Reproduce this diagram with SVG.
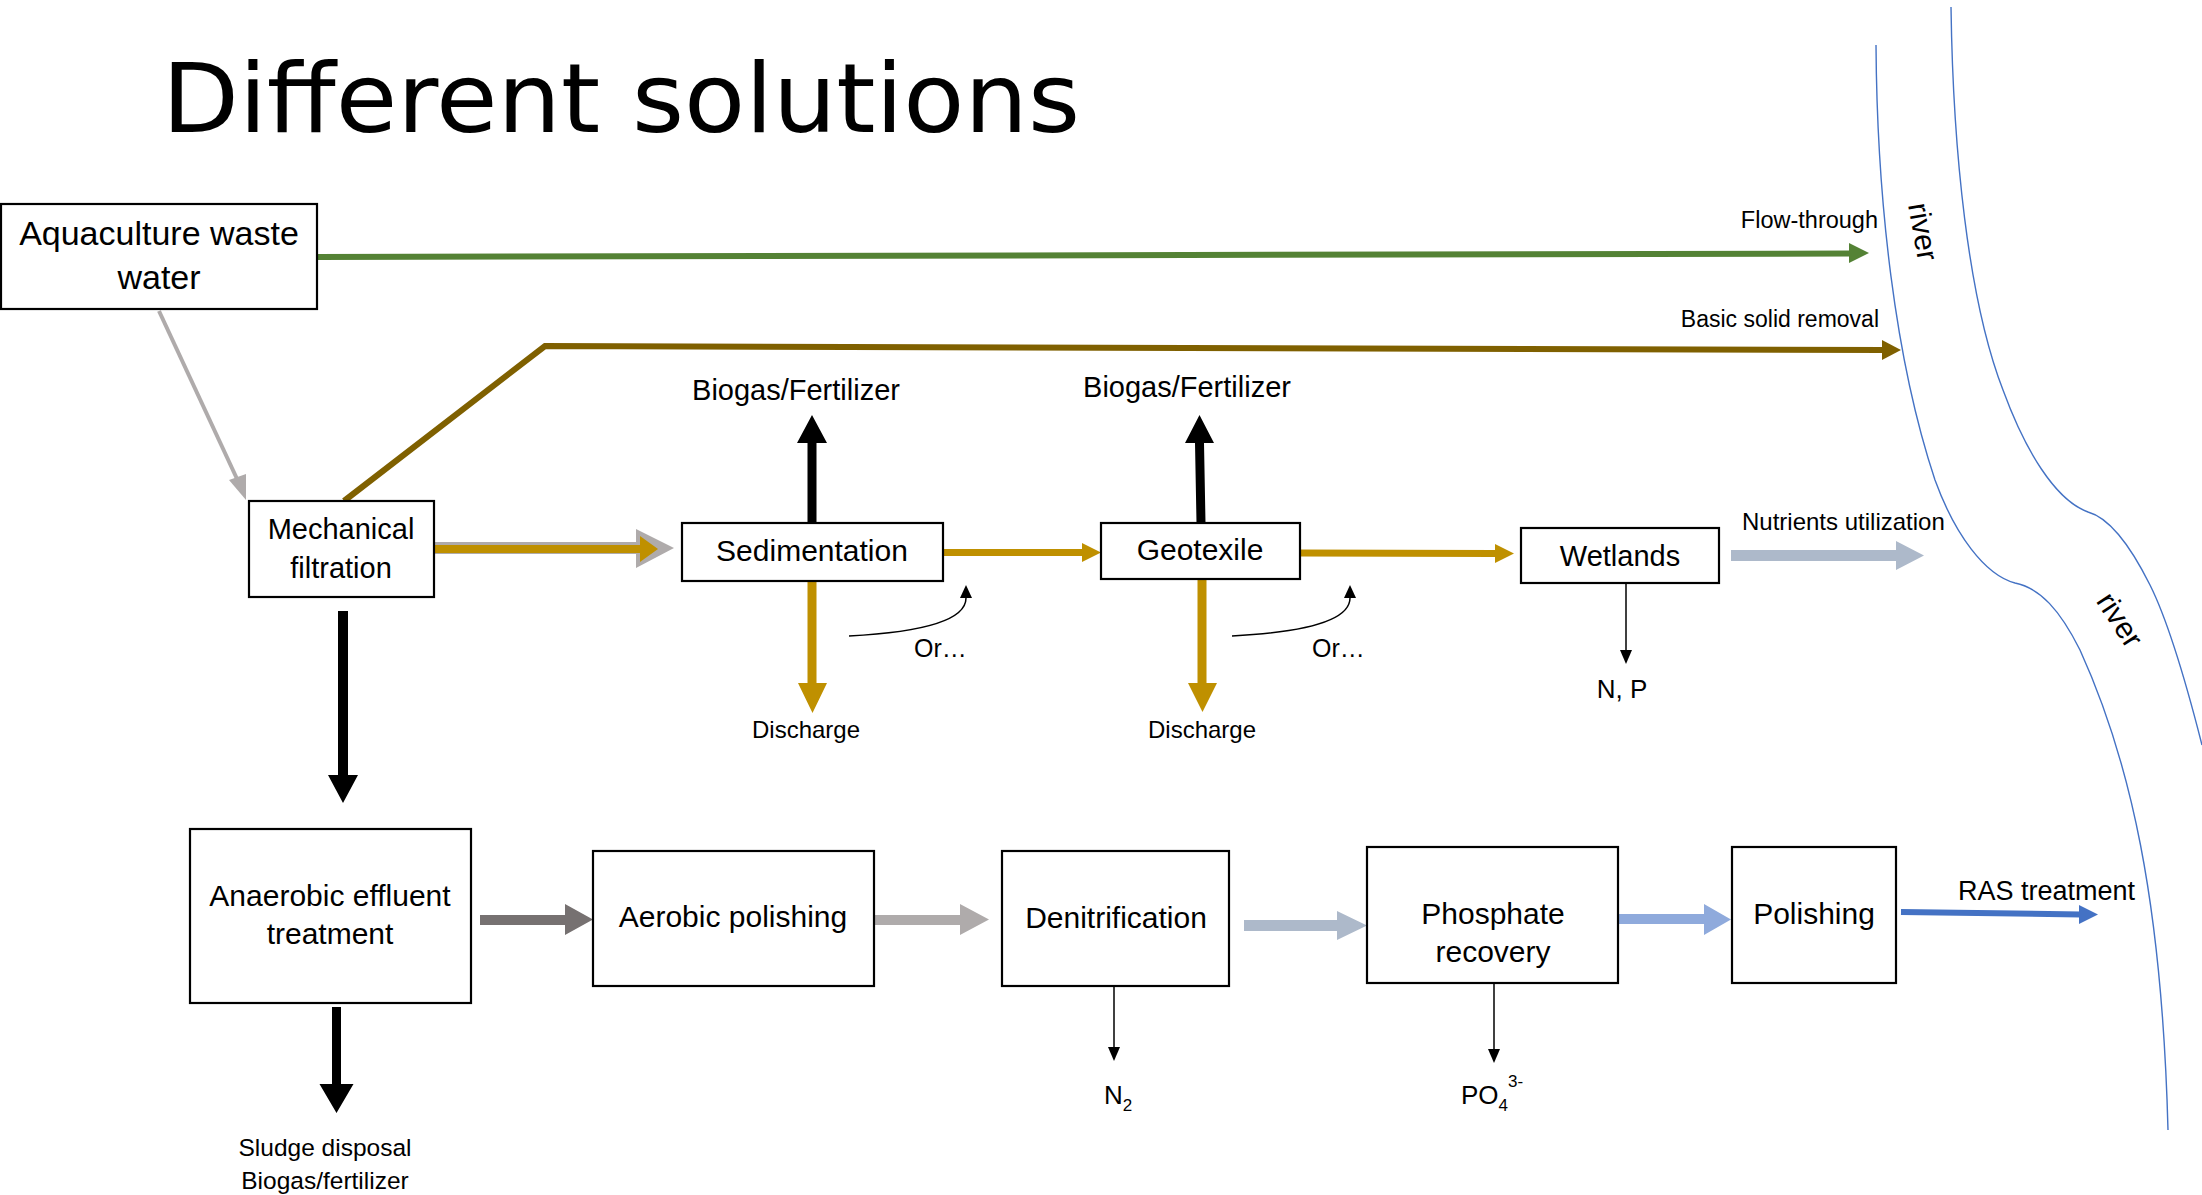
<svg xmlns="http://www.w3.org/2000/svg" width="2202" height="1195" viewBox="0 0 2202 1195">
<style>
.box{fill:#fff;stroke:#000;stroke-width:2.2}
.t{font-family:"Liberation Sans",Arial,sans-serif;fill:#000}
.bt{font-size:30px;text-anchor:middle}
.lab{font-size:24px}
.thin{stroke:#000;stroke-width:1.5;fill:none}
.river{stroke:#4472C4;stroke-width:1.4;fill:none}
</style>
<rect width="2202" height="1195" fill="#fff"/>
<text class="t" x="162" y="132" style="font-family:'DejaVu Sans',Verdana,sans-serif;font-size:97px" textLength="918" lengthAdjust="spacingAndGlyphs">Different solutions</text>

<g id="river">
<path class="river" d="M1876,45 C1877,200 1895,360 1935,480 C1955,535 1985,575 2015,583 C2040,588 2060,610 2080,650 C2130,760 2162,900 2168,1130"/>
<path class="river" d="M1951,7 C1953,150 1968,300 2003,390 C2025,450 2055,500 2088,512 C2110,518 2130,545 2150,585 C2170,625 2188,690 2202,745"/>
<text class="t" font-size="30" text-anchor="middle" transform="translate(1921,232) rotate(80)" y="8">river</text>
<text class="t" font-size="30" text-anchor="middle" transform="translate(2118,621) rotate(57)" y="8">river</text>
</g>

<g id="connectors">
<line x1="317" y1="257" x2="1851" y2="253.5" stroke="#548235" stroke-width="6"/>
<polygon points="1849,243 1869,253 1849,263" fill="#548235"/>
<text class="t" x="1878" y="228" font-size="23.5" text-anchor="end">Flow-through</text>
<polyline points="344,501 545,346 1884,350" fill="none" stroke="#7F6000" stroke-width="6"/>
<polygon points="1882,340 1901,350 1882,360" fill="#7F6000"/>
<text class="t" x="1879" y="327" font-size="23" text-anchor="end">Basic solid removal</text>
<line x1="159" y1="311" x2="238" y2="481" stroke="#AFABAB" stroke-width="4"/>
<polygon points="229,480 246,500 246,474" fill="#AFABAB"/>
<polygon points="434,542 636,542 636,529 674,548 636,568 636,554 434,554" fill="#AFABAB"/>
<polygon points="434,545 640,545 640,536 658,549 640,562 640,553 434,553" fill="#BF9000"/>
<polygon points="807.5,522 807.5,443 797,443 812,415 827,443 816.5,443 816.5,522" fill="#000"/>
<polygon points="807.5,581 807.5,683 798,683 812.5,713 827,683 816.5,683 816.5,581" fill="#BF9000"/>
<text class="t" x="796" y="400" font-size="29" text-anchor="middle">Biogas/Fertilizer</text>
<text class="t lab" x="806" y="738" text-anchor="middle">Discharge</text>
<polygon points="944,549 1082,549 1082,543 1101,552.5 1082,562 1082,556 944,556" fill="#BF9000"/>
<path class="thin" d="M849,636 C925,632 966,620 966,598"/>
<polygon points="960,598 966,585 972,598" fill="#000"/>
<text class="t" x="914" y="657" font-size="25">Or…</text>
<polygon points="1196.5,523 1195,443 1185,443 1199.5,415 1214,443 1204,443 1205.5,523" fill="#000"/>
<polygon points="1197.5,580 1197.5,683 1188,683 1202.5,712 1217,683 1206.5,683 1206.5,580" fill="#BF9000"/>
<text class="t" x="1187" y="397" font-size="29" text-anchor="middle">Biogas/Fertilizer</text>
<text class="t lab" x="1202" y="738" text-anchor="middle">Discharge</text>
<polygon points="1300,549.5 1495,550 1495,544 1514,553.5 1495,563 1495,557 1300,556.5" fill="#BF9000"/>
<path class="thin" d="M1232,636 C1308,632 1350,620 1350,598"/>
<polygon points="1344,598 1350,585 1356,598" fill="#000"/>
<text class="t" x="1312" y="657" font-size="25">Or…</text>
<line class="thin" x1="1626" y1="583" x2="1626" y2="652"/>
<polygon points="1620,650 1626,664 1632,650" fill="#000"/>
<text class="t" x="1622" y="698" font-size="26" text-anchor="middle">N, P</text>
<polygon points="1731,550 1896,550 1896,541 1924,555.5 1896,570 1896,561 1731,561" fill="#ADB9CA"/>
<text class="t lab" x="1742" y="530">Nutrients utilization</text>
<polygon points="338,611 338,775 328,775 343,803 358,775 348,775 348,611" fill="#000"/>
<polygon points="332,1007 332,1084 319.5,1084 336.5,1113 353.5,1084 341,1084 341,1007" fill="#000"/>
<text class="t" x="325" y="1156" font-size="24.5" text-anchor="middle">Sludge disposal</text>
<text class="t" x="325" y="1189" font-size="24.5" text-anchor="middle">Biogas/fertilizer</text>
<polygon points="480,915 565,915 565,904 593,919.5 565,935 565,925 480,925" fill="#767171"/>
<polygon points="874,915 960,915 960,904 989,919.5 960,935 960,925 874,925" fill="#AFABAB"/>
<line class="thin" x1="1114" y1="986" x2="1114" y2="1049"/>
<polygon points="1108,1047 1114,1061 1120,1047" fill="#000"/>
<text class="t" x="1104" y="1104" font-size="26">N<tspan font-size="17" dy="7">2</tspan></text>
<polygon points="1244,920 1337,920 1337,911 1367,925.5 1337,940 1337,931 1244,931" fill="#ADB9CA"/>
<line class="thin" x1="1494" y1="983" x2="1494" y2="1051"/>
<polygon points="1488,1049 1494,1063 1500,1049" fill="#000"/>
<text class="t" x="1461" y="1104" font-size="26">PO<tspan font-size="17" dy="7">4</tspan><tspan font-size="17" dy="-24">3-</tspan></text>
<polygon points="1618,914 1704,914 1704,904 1731,919.5 1704,935 1704,924 1618,924" fill="#8FAADC"/>
<line x1="1901" y1="912" x2="2081" y2="914.5" stroke="#4472C4" stroke-width="6"/>
<polygon points="2079,905 2098,914.5 2079,924" fill="#4472C4"/>
<text class="t" x="1958" y="900" font-size="27">RAS treatment</text>
</g>

<g id="aquaculture">
<rect class="box" x="1" y="204" width="316" height="105"/>
<text class="t bt" x="159" y="245" style="font-size:34px">Aquaculture waste</text>
<text class="t bt" x="159" y="289" style="font-size:34px">water</text>
</g>
<g id="mechanical">
<rect class="box" x="249" y="501" width="185" height="96"/>
<text class="t bt" x="341" y="539" style="font-size:29px">Mechanical</text>
<text class="t bt" x="341" y="578" style="font-size:29px">filtration</text>
</g>
<g id="sedimentation">
<rect class="box" x="682" y="523" width="261" height="58"/>
<text class="t bt" x="812" y="561">Sedimentation</text>
</g>
<g id="geotexile">
<rect class="box" x="1101" y="523" width="199" height="56"/>
<text class="t bt" x="1200" y="560">Geotexile</text>
</g>
<g id="wetlands">
<rect class="box" x="1521" y="528" width="198" height="55"/>
<text class="t bt" x="1620" y="566" style="font-size:29px">Wetlands</text>
</g>
<g id="anaerobic">
<rect class="box" x="190" y="829" width="281" height="174"/>
<text class="t bt" x="330" y="906">Anaerobic effluent</text>
<text class="t bt" x="330" y="944">treatment</text>
</g>
<g id="aerobic">
<rect class="box" x="593" y="851" width="281" height="135"/>
<text class="t bt" x="733" y="927">Aerobic polishing</text>
</g>
<g id="denitrification">
<rect class="box" x="1002" y="851" width="227" height="135"/>
<text class="t bt" x="1116" y="928">Denitrification</text>
</g>
<g id="phosphate">
<rect class="box" x="1367" y="847" width="251" height="136"/>
<text class="t bt" x="1493" y="924">Phosphate</text>
<text class="t bt" x="1493" y="962">recovery</text>
</g>
<g id="polishing">
<rect class="box" x="1732" y="847" width="164" height="136"/>
<text class="t bt" x="1814" y="924">Polishing</text>
</g>
</svg>
